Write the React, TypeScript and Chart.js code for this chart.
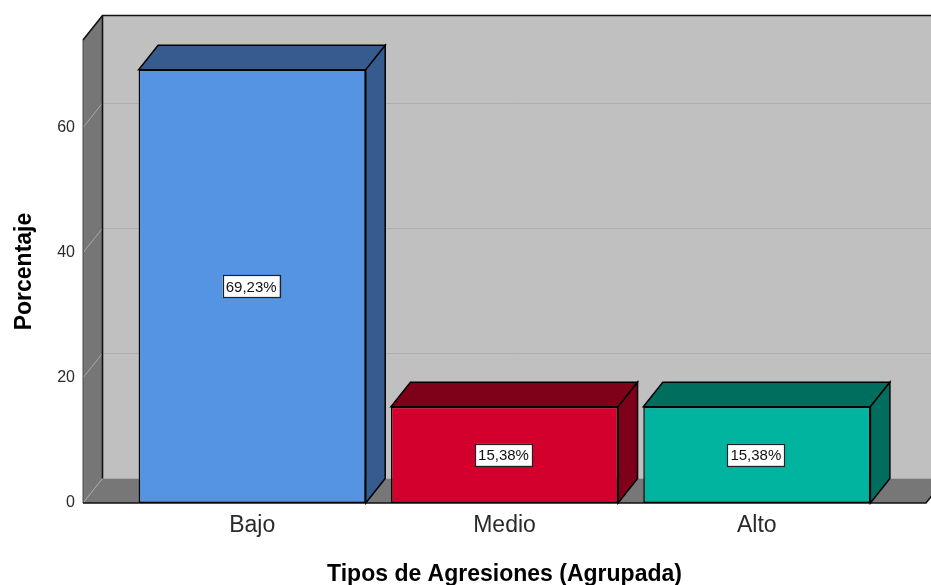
import React, { useEffect, useRef } from 'react';
import { Chart, registerables } from 'chart.js';

Chart.register(...registerables);

// ---- data ----
const categories = ['Bajo', 'Medio', 'Alto'];
const percentages = [69.23, 15.38, 15.38];
const frontColors = ['#5594E2', '#D3002E', '#00B4A0'];
const shadeColors = ['#365C8F', '#7F0019', '#006E5F'];
const yMin = 0;
const yMax = 74;
const yStep = 20;
const xTitle = 'Tipos de Agresiones (Agrupada)';
const yTitle = 'Porcentaje';

// ---- styling constants ----
const FONT = '"Liberation Sans", Arial, Helvetica, sans-serif';
const DX = 19.5;
const DY = -24.5;
const WALL_PAD = 43;

const fmt = (v: number) => v.toFixed(2).replace('.', ',') + '%';

const poly = (ctx: CanvasRenderingContext2D, pts: number[][]) => {
  ctx.beginPath();
  ctx.moveTo(pts[0][0], pts[0][1]);
  for (let i = 1; i < pts.length; i++) ctx.lineTo(pts[i][0], pts[i][1]);
  ctx.closePath();
};

const threeD = {
  id: 'threeD',
  beforeDraw(chart: any) {
    const { ctx, chartArea } = chart;
    const { left, right, top, bottom } = chartArea;
    const fl = left - WALL_PAD;
    const fr = right + WALL_PAD;
    const ys = chart.scales.y;
    ctx.save();
    // back wall
    ctx.fillStyle = '#C0C0C0';
    ctx.fillRect(fl + DX, top + DY, fr - fl + 40, bottom - top);
    // gridlines on back wall
    ctx.lineWidth = 1;
    ctx.strokeStyle = '#AEAEAE';
    ys.ticks.forEach((t: any) => {
      if (t.value === 0) return;
      const py = Math.round(ys.getPixelForValue(t.value) + DY) + 0.5;
      ctx.beginPath();
      ctx.moveTo(fl + DX, py);
      ctx.lineTo(fr + DX + 40, py);
      ctx.stroke();
    });
    // floor
    ctx.fillStyle = '#777777';
    poly(ctx, [[fl, bottom], [fr, bottom], [fr + DX, bottom + DY], [fl + DX, bottom + DY]]);
    ctx.fill();
    // left wall
    ctx.fillStyle = '#767676';
    poly(ctx, [[fl, top], [fl + DX, top + DY], [fl + DX, bottom + DY], [fl, bottom]]);
    ctx.fill();
    // tick diagonals
    ctx.strokeStyle = '#A8A8A8';
    ctx.lineWidth = 1;
    ys.ticks.forEach((t: any) => {
      const py = ys.getPixelForValue(t.value);
      ctx.beginPath();
      ctx.moveTo(fl, py);
      ctx.lineTo(fl + DX, py + DY);
      ctx.stroke();
    });
    // outlines
    ctx.strokeStyle = '#4A4A4A';
    ctx.lineWidth = 1;
    ctx.beginPath();
    ctx.moveTo(fl, top);
    ctx.lineTo(fl, bottom);
    ctx.stroke();
    ctx.strokeStyle = '#111';
    ctx.lineWidth = 1.6;
    ctx.beginPath();
    ctx.moveTo(fl, top);
    ctx.lineTo(fl + DX, top + DY);
    ctx.lineTo(fr + DX + 40, top + DY);
    ctx.stroke();
    ctx.beginPath();
    ctx.moveTo(fl + DX, top + DY);
    ctx.lineTo(fl + DX, bottom + DY);
    ctx.stroke();
    ctx.beginPath();
    ctx.moveTo(fl, bottom);
    ctx.lineTo(fr, bottom);
    ctx.lineTo(fr + DX, bottom + DY);
    ctx.stroke();
    ctx.restore();
  },
  afterDatasetsDraw(chart: any) {
    const { ctx } = chart;
    const meta = chart.getDatasetMeta(0);
    ctx.save();
    ctx.lineJoin = 'miter';
    meta.data.forEach((el: any, i: number) => {
      const { x, y, base, width } = el.getProps(['x', 'y', 'base', 'width'], true);
      const x1 = x - width / 2;
      const x2 = x + width / 2;
      ctx.fillStyle = shadeColors[i];
      ctx.strokeStyle = '#000';
      ctx.lineWidth = 1.5;
      poly(ctx, [[x1, y], [x2, y], [x2 + DX, y + DY], [x1 + DX, y + DY]]);
      ctx.fill();
      ctx.stroke();
      poly(ctx, [[x2, y], [x2 + DX, y + DY], [x2 + DX, base + DY], [x2, base]]);
      ctx.fill();
      ctx.stroke();
    });
    // value labels
    ctx.font = `15px ${FONT}`;
    ctx.textAlign = 'center';
    ctx.textBaseline = 'middle';
    meta.data.forEach((el: any, i: number) => {
      const { x, y, base } = el.getProps(['x', 'y', 'base'], true);
      const txt = fmt(percentages[i]);
      const w = ctx.measureText(txt).width + 6;
      const h = 22;
      const cx = x - 1;
      const cy = (y + base) / 2;
      ctx.fillStyle = '#FFFFFF';
      ctx.fillRect(cx - w / 2, cy - h / 2, w, h);
      ctx.strokeStyle = '#222';
      ctx.lineWidth = 1.2;
      ctx.strokeRect(Math.round(cx - w / 2) + 0.5, Math.round(cy - h / 2) + 0.5, Math.round(w), h);
      ctx.fillStyle = '#111';
      ctx.fillText(txt, cx, cy + 1);
    });
    ctx.restore();
  },
};

export default function App() {
  const ref = useRef<HTMLCanvasElement>(null);
  useEffect(() => {
    document.body.style.margin = '0';
    const chart = new Chart(ref.current as HTMLCanvasElement, {
      type: 'bar',
      data: {
        labels: categories,
        datasets: [
          {
            data: percentages,
            backgroundColor: frontColors,
            borderColor: '#000',
            borderWidth: 1.5,
            borderSkipped: false,
            barPercentage: 0.9,
            categoryPercentage: 1,
          },
        ],
      },
      options: {
        animation: false,
        responsive: false,
        devicePixelRatio: 1,
        layout: { padding: { top: 40, right: 48, left: 0, bottom: 0 } },
        plugins: { legend: { display: false }, tooltip: { enabled: false } },
        scales: {
          x: {
            grid: { display: false, drawTicks: false },
            border: { display: false },
            ticks: { font: { family: FONT, size: 23 }, color: '#2a2a2a', padding: 9, maxRotation: 0 },
            title: {
              display: true,
              text: xTitle,
              font: { family: FONT, size: 23, weight: 'bold' },
              color: '#000',
              padding: { top: 0, bottom: -3 },
            },
            afterFit: (s: any) => {
              s.height = 82;
              s.paddingLeft = 0;
              s.paddingRight = 0;
              s.paddingTop = 0;
              s.paddingBottom = 0;
            },
          },
          y: {
            min: yMin,
            max: yMax,
            ticks: { stepSize: yStep, font: { family: FONT, size: 16 }, color: '#2a2a2a', padding: 51 },
            grid: { display: false, drawTicks: false },
            border: { display: false },
            title: {
              display: true,
              text: yTitle,
              font: { family: FONT, size: 23, weight: 'bold' },
              color: '#000',
              padding: { top: 11, bottom: 0 },
            },
            afterBuildTicks: (s: any) => {
              s.ticks = s.ticks.filter((t: any) => t.value % yStep === 0);
            },
            afterFit: (s: any) => {
              s.width = 126;
              s.paddingLeft = 0;
              s.paddingRight = 0;
              s.paddingTop = 0;
              s.paddingBottom = 0;
            },
          },
        },
      } as any,
      plugins: [threeD],
    });
    return () => chart.destroy();
  }, []);
  return (
    <div style={{ position: 'fixed', left: 0, top: 0, width: 931, height: 585 }}>
      <canvas ref={ref} width={931} height={585} style={{ display: 'block' }} />
    </div>
  );
}
